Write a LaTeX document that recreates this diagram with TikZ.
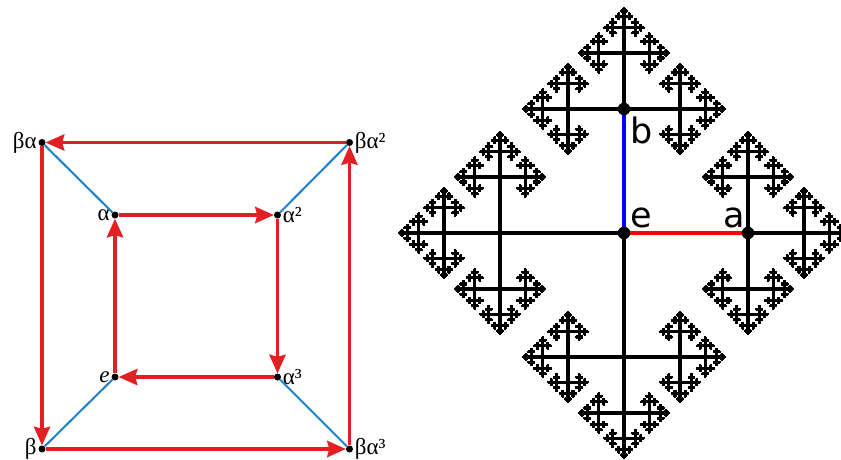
\documentclass[tikz,border=0pt]{standalone}
\usepackage{fontspec}
\setmainfont{Liberation Serif}
\newfontfamily\dejavu{DejaVu Sans}
\usetikzlibrary{arrows.meta}
\pgfdeclarelayer{bg}
\pgfsetlayers{bg,main}
\definecolor{arrred}{RGB}{226,32,36}
\definecolor{edgeblue}{RGB}{28,128,204}
\def\fratio{0.452}
\tikzset{
  dot/.style={circle, fill=black, inner sep=0pt, minimum size=7pt},
  bigdot/.style={circle, fill=black, inner sep=0pt, minimum size=12.5pt},
  arr/.style={draw=arrred, line width=3.5pt, -{Stealth[length=19pt,width=17pt,inset=2.5pt,line width=0pt]}},
  rung/.style={draw=edgeblue, line width=2pt},
  lbl/.style={font=\fontsize{23}{26}\selectfont, inner sep=1.5pt},
  treeline/.style={draw=black, line width=3.3pt},
  rlbl/.style={font=\dejavu\fontsize{35}{40}\selectfont, inner sep=0pt},
}
% recursive branch: x y ux uy len depth
\newcommand\fbr[6]{%
  \ifnum#6>0\relax
    \begingroup
    \pgfmathsetmacro\fbrx{#1+(#3)*#5}%
    \pgfmathsetmacro\fbry{#2+(#4)*#5}%
    \pgfmathsetmacro\fbrl{#5*\fratio}%
    \edef\fbrd{\the\numexpr#6-1\relax}%
    \draw[treeline] (#1,#2) -- (\fbrx,\fbry);
    \edef\fbrnext{%
      \noexpand\fbr{\fbrx}{\fbry}{#3}{#4}{\fbrl}{\fbrd}%
      \noexpand\fbr{\fbrx}{\fbry}{#4}{\the\numexpr0-#3\relax}{\fbrl}{\fbrd}%
      \noexpand\fbr{\fbrx}{\fbry}{\the\numexpr0-#4\relax}{#3}{\fbrl}{\fbrd}}%
    \fbrnext
    \endgroup
  \fi}
\begin{document}
\begin{tikzpicture}[x=1pt,y=-1pt]
\useasboundingbox (0,0) rectangle (841,459);
% ---------- left: Cayley graph of D4 ----------
\node[dot, label={[lbl]left:βα}] (ba) at (42,142.5) {};
\node[dot, label={[lbl]right:βα²}] (ba2) at (349.5,142.5) {};
\node[dot, label={[lbl]left:α}] (a1) at (115,215) {};
\node[dot, label={[lbl]right:α²}] (a2) at (277.5,215) {};
\node[dot, label={[lbl]left:\textit{e}}] (e0) at (115,377) {};
\node[dot, label={[lbl]right:α³}] (a3) at (277.5,377) {};
\node[dot, label={[lbl]left:β}] (b0) at (42,449) {};
\node[dot, label={[lbl]right:βα³}] (ba3) at (349.5,449) {};
\draw[rung] (ba) -- (a1);
\draw[rung] (ba2) -- (a2);
\draw[rung] (e0) -- (b0);
\draw[rung] (a3) -- (ba3);
\draw[arr] (ba2) -- (ba);
\draw[arr] (ba) -- (b0);
\draw[arr] (b0) -- (ba3);
\draw[arr] (ba3) -- (ba2);
\draw[arr] (e0) -- (a1);
\draw[arr] (a1) -- (a2);
\draw[arr] (a2) -- (a3);
\draw[arr] (a3) -- (e0);
% ---------- right: Cayley graph of F2 ----------
\node[bigdot] (E) at (624,233) {};
\node[bigdot] (A) at (748,233) {};
\node[bigdot] (B) at (624,109) {};
\begin{pgfonlayer}{bg}
  \fbr{624}{233}{1}{0}{124}{7}
  \fbr{624}{233}{-1}{0}{124}{7}
  \fbr{624}{233}{0}{1}{124}{7}
  \fbr{624}{233}{0}{-1}{124}{7}
  \draw[treeline, draw=red] (E) -- (A);
  \draw[treeline, draw=blue] (E) -- (B);
\end{pgfonlayer}
\node[rlbl, anchor=base west] (le) at (630,227) {e};
\node[rlbl, anchor=base east] (la) at (745,227) {a};
\node[rlbl, anchor=base west] (lb) at (630,143) {b};
\end{tikzpicture}
\end{document}
